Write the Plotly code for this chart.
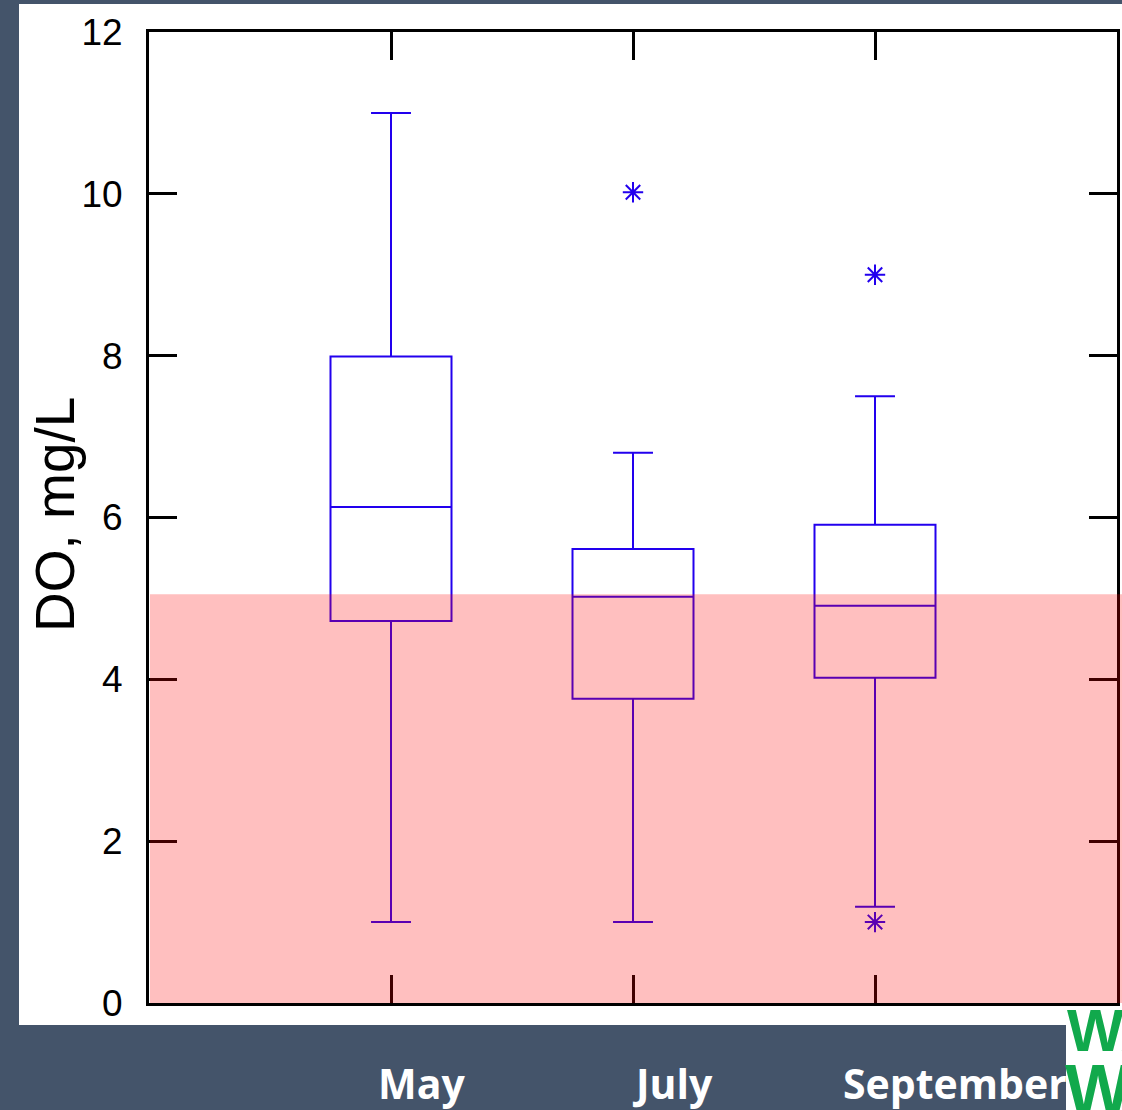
import plotly.graph_objects as go

# ---- data ----
months = ["May", "July", "September"]
positions = [1, 2, 3]
q1 = [4.72, 3.76, 4.02]
median = [6.13, 5.02, 4.91]
q3 = [7.99, 5.61, 5.91]
lower_fence = [1.0, 1.0, 1.19]
upper_fence = [11.0, 6.8, 7.5]
outlier_x = [2, 3, 3]
outlier_y = [10.02, 9.0, 1.0]
threshold = 5.05
y_ticks = [0, 2, 4, 6, 8, 10, 12]

# ---- layout geometry (pixels) ----
W, H = 1122, 1110
L, R, T, B = 149, 5, 32, 107
PW, PH = W - L - R, H - T - B


def px_x(p):
    return (p - L) / PW


def px_y(p):
    return (H - B - p) / PH


BLUE = "rgb(34,0,238)"
BG = "#44546A"
GREEN = "#11A94C"

fig = go.Figure()

fig.add_trace(go.Box(
    x=positions, q1=q1, median=median, q3=q3,
    lowerfence=lower_fence, upperfence=upper_fence,
    width=0.5, whiskerwidth=0.33,
    line=dict(color=BLUE, width=2),
    fillcolor="rgba(0,0,0,0)",
    boxpoints=False, showlegend=False, hoverinfo="skip",
))

fig.add_trace(go.Scatter(
    x=outlier_x, y=outlier_y, mode="markers",
    marker=dict(symbol="asterisk-open", size=17,
                line=dict(color=BLUE, width=2), color=BLUE),
    showlegend=False, hoverinfo="skip",
))

shapes = [
    # white panel behind chart
    dict(type="rect", xref="paper", yref="paper",
         x0=px_x(19), x1=px_x(W + 2), y0=px_y(1025), y1=px_y(4),
         fillcolor="white", line=dict(width=0), layer="below"),
    # translucent red band below threshold
    dict(type="rect", xref="paper", yref="y",
         x0=px_x(150), x1=px_x(W + 2), y0=-0.06, y1=threshold,
         fillcolor="rgba(255,0,0,0.25)", line=dict(width=0), layer="above"),
    # logo background
    dict(type="rect", xref="paper", yref="paper",
         x0=px_x(1066), x1=px_x(W + 2), y0=px_y(H + 2), y1=px_y(1007),
         fillcolor="white", line=dict(width=0), layer="above"),
]

annotations = [
    dict(text="DO, mg/L", textangle=-90, xref="paper", yref="paper",
         x=px_x(55), y=px_y(515), xanchor="center", yanchor="middle",
         showarrow=False,
         font=dict(family="Liberation Sans, Arial, sans-serif", size=55, color="black")),
]

label_shift = [30, 39, 80]
for m, p, s in zip(months, positions, label_shift):
    annotations.append(dict(
        text="<b>%s</b>" % m, xref="x", yref="paper", x=p, y=px_y(1083),
        xshift=s, xanchor="center", yanchor="middle", showarrow=False,
        font=dict(family="Open Sans, sans-serif", size=41, color="white")))

annotations += [
    dict(text="<b>WA</b>", xref="paper", yref="paper", x=px_x(1065), y=px_y(1030),
         xanchor="left", yanchor="middle", showarrow=False,
         font=dict(family="Liberation Sans, Arial", size=60, color=GREEN)),
    dict(text="<b>W</b>", xref="paper", yref="paper", x=px_x(1063), y=px_y(1090),
         xanchor="left", yanchor="middle", showarrow=False,
         font=dict(family="Liberation Sans, Arial", size=70, color=GREEN)),
]

fig.update_layout(
    width=W, height=H,
    margin=dict(l=L, r=R, t=T, b=B, autoexpand=False),
    paper_bgcolor=BG, plot_bgcolor="white",
    shapes=shapes, annotations=annotations,
    xaxis=dict(range=[0, 4], tickvals=positions, showticklabels=False,
               ticks="inside", ticklen=28, tickwidth=3, tickcolor="black",
               showline=True, linewidth=3, linecolor="black", mirror="ticks",
               showgrid=False, zeroline=False, fixedrange=True),
    yaxis=dict(range=[0, 12], tickvals=y_ticks, ticktext=[str(v) for v in y_ticks],
               ticks="inside", ticklen=28, tickwidth=3, tickcolor="black",
               showline=True, linewidth=3, linecolor="black", mirror="ticks",
               showgrid=False, zeroline=False, ticklabelstandoff=16,
               tickfont=dict(family="Liberation Sans, Arial, sans-serif",
                             size=37, color="black"),
               fixedrange=True),
)

fig.write_html("out.html", config={"displayModeBar": False})
